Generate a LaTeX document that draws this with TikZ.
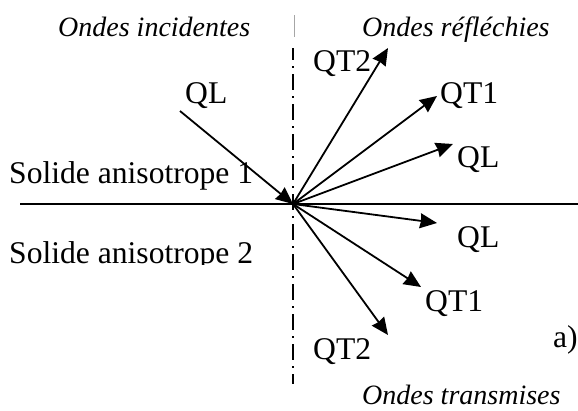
\documentclass[tikz,border=0pt]{standalone}
\usepackage{fontspec}
\setmainfont{Liberation Serif}
\usetikzlibrary{arrows.meta}
\begin{document}
\begin{tikzpicture}[x=1pt,y=-1pt,
  lbl/.style={font=\fontsize{31.6}{32}\selectfont,inner sep=0pt,anchor=base west},
  head/.style={font=\fontsize{28}{28}\selectfont\itshape,inner sep=0pt,anchor=base west},
  ray/.style={line width=1.8pt,-{Stealth[length=17pt,width=15pt,inset=1pt]}}]
\useasboundingbox (0,0) rectangle (578,410);
\fill[white] (0,0) rectangle (578,410);
\coordinate (O) at (293,204);
\coordinate (thintop) at (294,15);
\coordinate (thinbot) at (294,37);
\coordinate (top) at (293,48);
\coordinate (bot) at (293,384);
\coordinate (il) at (20,204);
\coordinate (ir) at (578,204);
\draw[line width=1.7pt] (il) -- (ir);
\draw[line width=0.5pt,gray!70] (thintop) -- (thinbot);
\draw[line width=1.4pt,dash pattern=on 16pt off 6pt on 2pt off 6pt,dash phase=4pt] (top) -- (bot);
\coordinate (s) at (180,111);
\coordinate (a1) at (388,48);
\coordinate (a2) at (437,96);
\coordinate (a3) at (453,144);
\coordinate (a4) at (437,223);
\coordinate (a5) at (421,287);
\coordinate (a6) at (388,335);
\draw[ray] (s) -- (O);
\draw[ray] (O) -- (a1);
\draw[ray] (O) -- (a2);
\draw[ray] (O) -- (a3);
\draw[ray] (O) -- (a4);
\draw[ray] (O) -- (a5);
\draw[ray] (O) -- (a6);
\node[head] (h1) at (58,36) {Ondes incidentes};
\node[head] (h2) at (362,36) {Ondes réfléchies};
\node[head] (h3) at (362,404) {Ondes transmises};
\node[lbl] (q0) at (185,103) {QL};
\node[lbl] (q1) at (313,71) {QT2};
\node[lbl] (q2) at (440,103) {QT1};
\node[lbl] (q3) at (457,167) {QL};
\node[lbl] (q4) at (457,247) {QL};
\node[lbl] (q5) at (425,311) {QT1};
\node[lbl] (q6) at (313,359) {QT2};
\node[lbl] (s1) at (9,183) {Solide anisotrope 1};
\node[lbl] (s2) at (9,263) {Solide anisotrope 2};
\fill[white] (0,265) rectangle (260,275);
\node[lbl] (a) at (553,347) {a)};
\end{tikzpicture}
\end{document}
